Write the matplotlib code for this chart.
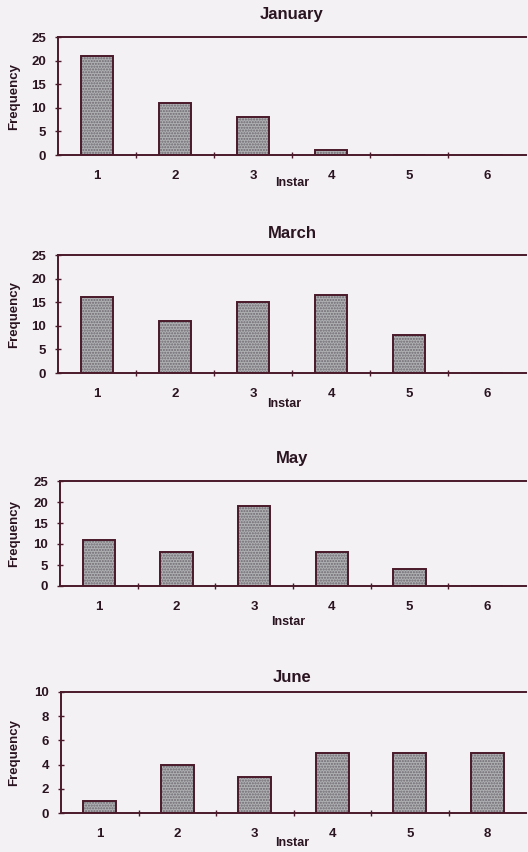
import matplotlib
matplotlib.use("Agg")
import matplotlib.pyplot as plt

instars = [1, 2, 3, 4, 5, 6]
months = ["January", "March", "May", "June"]
jan = [21, 11, 8, 1, 0, 0]
mar = [16, 11, 15, 16.5, 8, 0]
may = [11, 8, 19, 8, 4, 0]
jun = [1, 4, 3, 5, 5, 5]
series = [jan, mar, may, jun]
xticklabels = [["1", "2", "3", "4", "5", "6"]] * 3 + [["1", "2", "3", "4", "5", "8"]]
ymax = [25, 25, 25, 10]
ystep = [5, 5, 5, 2]

W, H = 528, 852
BG = "#f4f1f5"
DARK = "#4a1a2a"
TXT = "#2a1420"
FONT = "Liberation Sans"

# panel geometry in pixels: (left, top, bottom)
panels = [(58, 37, 155), (58, 255, 373), (60, 481, 586), (61, 692, 813)]
title_y = [15, 233, 459, 677]
label_y = [183, 404, 622, 843]
label_x = [292, 284, 288, 292]
right = 526

fig = plt.figure(figsize=(W / 100, H / 100), dpi=100, facecolor=BG)

for i, (l, t, b) in enumerate(panels):
    ax = fig.add_axes([l / W, 1 - b / H, (right - l) / W, (b - t) / H])
    ax.set_facecolor(BG)
    vals = series[i]
    ax.bar(instars, vals, width=0.42, color="#aeb0b2", hatch="......",
           edgecolor="#6e6870", linewidth=0, zorder=2)
    ax.bar(instars, vals, width=0.42, color="none",
           edgecolor=DARK, linewidth=1.4, zorder=3)
    ax.set_xlim(0.5, 6.5)
    ax.set_ylim(0, ymax[i])
    ax.set_yticks(list(range(0, ymax[i] + 1, ystep[i])))
    ax.set_xticks([1.5, 2.5, 3.5, 4.5, 5.5])
    ax.set_xticklabels([])
    ax.set_xticks(instars, minor=True)
    ax.set_xticklabels(xticklabels[i], minor=True)
    ax.tick_params(axis="x", which="major", direction="inout", length=5,
                   width=1, color=DARK)
    ax.tick_params(axis="x", which="minor", length=0, pad=11,
                   labelsize=9.5, labelcolor=TXT)
    ax.tick_params(axis="y", direction="inout", length=5, width=1,
                   color=DARK, pad=6, labelsize=9.5, labelcolor=TXT)
    for lab in ax.get_xticklabels(minor=True) + ax.get_yticklabels():
        lab.set_fontfamily(FONT)
        lab.set_fontweight("bold")
    for s in ["top", "left", "bottom"]:
        ax.spines[s].set_color(DARK)
        ax.spines[s].set_linewidth(1.4)
    ax.spines["right"].set_visible(False)
    ax.set_ylabel("Frequency", fontsize=9.5, fontweight="bold", color=TXT,
                  family=FONT)
    ax.yaxis.set_label_coords(-(l - 20) / (right - l), 0.5)
    fig.text(292 / W, 1 - title_y[i] / H, months[i], ha="center", va="center",
             fontsize=12, fontweight="bold", color=TXT, family=FONT)
    fig.text(label_x[i] / W, 1 - label_y[i] / H, "Instar", ha="center",
             va="center", fontsize=9, fontweight="bold", color=TXT,
             family=FONT)

fig.savefig("out.png", dpi=100, facecolor=BG)
